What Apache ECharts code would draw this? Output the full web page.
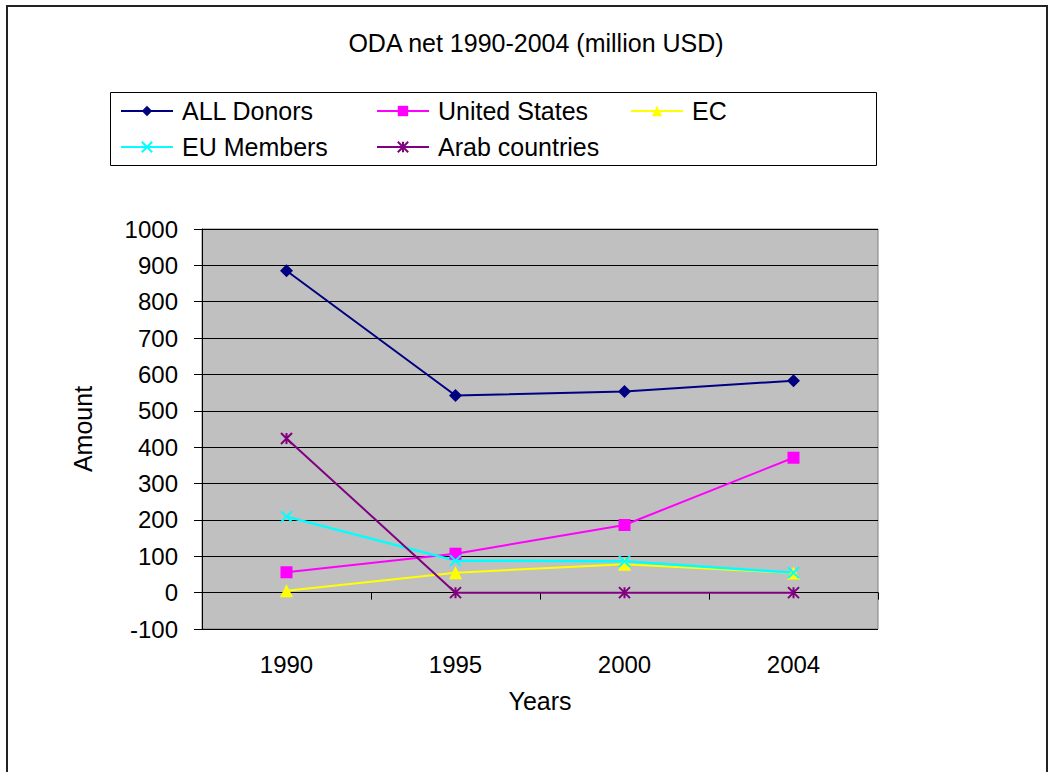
<!DOCTYPE html>
<html>
<head>
<meta charset="utf-8">
<script src="https://cdn.jsdelivr.net/npm/echarts@6/dist/echarts.min.js"></script>
<style>
html,body{margin:0;padding:0;background:#fff;}
#chart{width:1048px;height:772px;}
</style>
</head>
<body>
<div id="chart"></div>
<script>
const years = ['1990', '1995', '2000', '2004'];
const allDonors = [885, 542, 553, 583];
const unitedStates = [56, 107, 186, 371];
const ec = [5, 55, 78, 54];
const euMembers = [209, 88, 86, 55];
const arabCountries = [424, 0, 0, 0];
const titleText = 'ODA net 1990-2004 (million USD)';

const FONT = 'Liberation Sans, Arial, sans-serif';
const chart = echarts.init(document.getElementById('chart'), null, {renderer: 'svg'});

const xPath = 'path://M0,0L10,10M10,0L0,10';
const starPath = 'path://M0,0L10,10M10,0L0,10M5,0L5,10';

function mk(name, data, color, symbol, size, lw, stroked) {
  const s = {
    name: name, type: 'line', data: data, symbol: symbol, symbolSize: size,
    lineStyle: {color: color, width: lw},
    itemStyle: {color: color},
    emphasis: {disabled: true}, animation: false
  };
  if (stroked) { s.itemStyle = {color: color, borderColor: color, borderWidth: 2}; }
  return s;
}

function leg(name, left, top) {
  return {
    data: [name], left: left, top: top, itemWidth: 52, itemHeight: 13,
    padding: 0, selectedMode: false,
    textStyle: {fontFamily: FONT, fontSize: 25, color: '#000', lineHeight: 26, padding: [0, 0, 0, 4]}
  };
}

chart.setOption({
  animation: false,
  backgroundColor: '#fff',
  graphic: [
    {type: 'rect', z: -10, shape: {x: 7, y: 6, width: 1040, height: 800}, style: {fill: 'none', stroke: '#222', lineWidth: 2}},
    {type: 'rect', z: -10, shape: {x: 110.5, y: 92.5, width: 766, height: 73}, style: {fill: '#fff', stroke: '#000', lineWidth: 1}},
    {type: 'text', x: 536, y: 43, style: {text: titleText, fontFamily: FONT, fontSize: 25, fill: '#000', textAlign: 'center', textVerticalAlign: 'middle'}}
  ],
  legend: [
    leg('ALL Donors', 120, 98),
    leg('United States', 376, 98),
    leg('EC', 630, 98),
    leg('EU Members', 120, 134),
    leg('Arab countries', 376, 134)
  ],
  grid: {left: 202, top: 229, width: 676, height: 400, show: true, backgroundColor: '#C0C0C0', borderColor: '#808080', borderWidth: 1},
  xAxis: {
    type: 'category', data: years, boundaryGap: true,
    name: 'Years', nameLocation: 'middle', nameGap: 59,
    nameTextStyle: {fontFamily: FONT, fontSize: 25, color: '#000'},
    axisLine: {lineStyle: {color: '#000', width: 1}},
    axisTick: {show: true, length: 7, lineStyle: {color: '#000'}},
    axisLabel: {fontFamily: FONT, fontSize: 24, color: '#000', margin: 23},
    splitLine: {show: false}
  },
  yAxis: {
    type: 'value', min: -100, max: 1000, interval: 100,
    name: 'Amount', nameLocation: 'middle', nameGap: 107, nameRotate: 90,
    nameTextStyle: {fontFamily: FONT, fontSize: 25, color: '#000'},
    axisLine: {show: true, lineStyle: {color: '#000', width: 1}},
    axisTick: {show: true, length: 8, lineStyle: {color: '#000'}},
    axisLabel: {fontFamily: FONT, fontSize: 24, color: '#000', margin: 24, formatter: function (v) { return String(v); }},
    splitLine: {show: true, lineStyle: {color: '#000', width: 1}}
  },
  series: [
    mk('ALL Donors', allDonors, '#000080', 'diamond', 13, 2, false),
    mk('United States', unitedStates, '#FF00FF', 'rect', 12, 2, false),
    mk('EC', ec, '#FFFF00', 'triangle', 13, 2, false),
    mk('EU Members', euMembers, '#00FFFF', xPath, 11, 2.5, true),
    mk('Arab countries', arabCountries, '#800080', starPath, 11, 2, true)
  ]
});
</script>
</body>
</html>
